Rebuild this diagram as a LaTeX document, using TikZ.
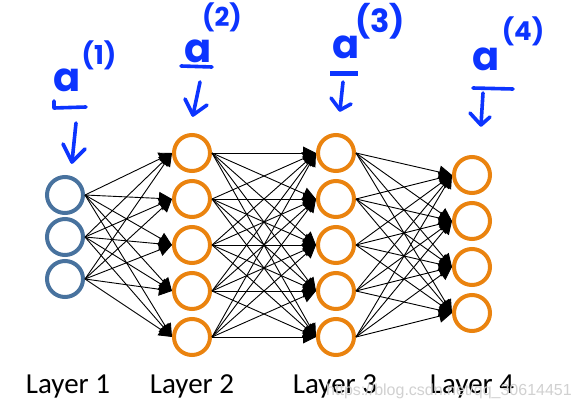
\documentclass[tikz,border=0pt]{standalone}
\usepackage{fontspec}
\setmainfont{Carlito}
\newfontfamily\wmfont{Liberation Sans}
\newfontfamily\handfont{Poppins}
\usetikzlibrary{arrows.meta}
\definecolor{hblue}{RGB}{12,52,255}
\definecolor{nodeorange}{RGB}{234,131,15}
\definecolor{nodeblue}{RGB}{72,114,158}
\begin{document}
\begin{tikzpicture}[x=1pt,y=-1pt,
  neuron/.style={circle,minimum size=36pt,inner sep=0pt,line width=4pt},
  inneuron/.style={neuron,draw=nodeblue},
  hidneuron/.style={neuron,draw=nodeorange},
  link/.style={line width=0.9pt,-{Triangle[length=13pt,width=13pt]}},
  layerlabel/.style={font=\fontsize{29}{30}\selectfont,anchor=base,inner sep=0pt},
  hand/.style={draw=hblue,line width=3.6pt,line cap=round,line join=round},
  handa/.style={text=hblue,inner sep=0pt,font=\handfont\bfseries\fontsize{40}{40}\selectfont},
  handsup/.style={text=hblue,inner sep=0pt,font=\handfont\bfseries\fontsize{26}{26}\selectfont},
]
\useasboundingbox (0,0) rectangle (579,410);
\fill[white] (0,0) rectangle (579,410);

% layer 1
\foreach \i/\y in {1/195,2/237,3/279}
  \node[inneuron] (a\i) at (65,\y) {};
% layer 2
\foreach \i/\y in {1/153,2/199,3/245,4/291,5/337}
  \node[hidneuron] (b\i) at (192,\y) {};
% layer 3
\foreach \i/\y in {1/153,2/199,3/245,4/291,5/337}
  \node[hidneuron] (c\i) at (336,\y) {};
% layer 4
\foreach \i/\y in {1/175,2/221,3/267,4/313}
  \node[hidneuron] (d\i) at (472,\y) {};

% connections
\foreach \s in {1,2,3}
  \foreach \t in {1,...,5}
    \draw[link] (a\s.east) -- (b\t.west);
\foreach \s in {1,...,5}
  \foreach \t in {1,...,5}
    \draw[link] (b\s.east) -- (c\t.west);
\foreach \s in {1,...,5}
  \foreach \t in {1,...,4}
    \draw[link] (c\s.east) -- (d\t.west);

% layer labels
\node[layerlabel] (l1) at (68,393) {Layer 1};
\node[layerlabel] (l2) at (192,393) {Layer 2};
\node[layerlabel] (l3) at (335,393) {Layer 3};
\node[layerlabel] (l4) at (472,393) {Layer 4};

% handwritten annotations
\node[handa] (h1) at (67,80) {a};
\node[handsup] (s1) at (99,55) {(1)};
\draw[hand] (54,101) -- (54,108) -- (86,107);
\draw[hand] (76,123) -- (72,162);
\draw[hand] (63,144) -- (72,162) -- (85,149);

\node[handa] (h2) at (198,51) {a};
\node[handsup] (s2) at (222,17) {(2)};
\draw[hand] (181,66) -- (212,67);
\draw[hand] (200,82) -- (193,115);
\draw[hand] (185,99) -- (193,115) -- (207,105);

\node[handa] (h3) at (346,47) {a};
\node[handsup,font=\handfont\bfseries\fontsize{32}{32}\selectfont] (s3) at (380,21) {(3)};
\draw[hand,line width=5pt,line cap=butt] (330,73) -- (358,73);
\draw[hand] (343,82) -- (340,110);
\draw[hand] (331,98) -- (340,110) -- (351,104);

\node[handa] (h4) at (486,59) {a};
\node[handsup] (s4) at (523,31) {(4)};
\draw[hand] (473,88) -- (513,89);
\draw[hand] (483,93) -- (481,125);
\draw[hand] (470,113) -- (481,125) -- (490,117);

% watermark
\node[anchor=base,inner sep=0pt,text=black!18,font=\wmfont\fontsize{16}{16}\selectfont] (wm) at (449,395) {https://blog.csdn.net/qq\_30614451};
\end{tikzpicture}
\end{document}
